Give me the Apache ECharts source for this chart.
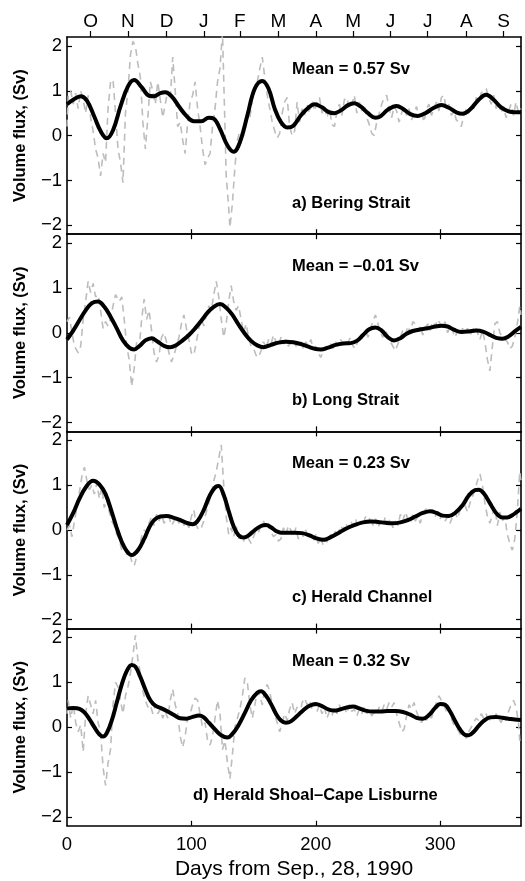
<!DOCTYPE html>
<html><head><meta charset="utf-8">
<script src="https://cdn.jsdelivr.net/npm/echarts@6/dist/echarts.min.js"></script>
<style>html,body{margin:0;padding:0;background:#fff}#c{width:525px;height:881px}</style>
</head><body><div id="c"></div>
<script>
// ---------- data ----------
const panelNames = ['a) Bering Strait', 'b) Long Strait', 'c) Herald Channel', 'd) Herald Shoal\u2013Cape Lisburne'];
const meanValues = ['0.57', '\u20130.01', '0.23', '0.32'];
const monthLabels = ['O','N','D','J','F','M','A','M','J','J','A','S'];
const monthDays = [19,49,80,110,139,170,200,230,260,290,321,351];
const xTickLabels = [0,100,200,300];
const xTickMarks = [100,200,300];
const yTicks = [-2,-1,0,1,2];
const xTitle = 'Days from Sep., 28, 1990';
const yTitle = 'Volume flux, (Sv)';

// a) Bering Strait
const beringSmooth = [[0,0.70],[5,0.80],[11,0.88],[16,0.78],[22,0.42],[27,0.10],[32,-0.06],[37,0.12],[43,0.65],[49,1.10],[54,1.24],[60,1.08],[66,0.89],[70,0.88],[75,0.95],[79,0.97],[84,0.88],[90,0.65],[96,0.44],[102,0.32],[108,0.32],[114,0.40],[118,0.38],[123,0.15],[129,-0.22],[134,-0.36],[139,-0.15],[145,0.45],[151,1.05],[157,1.22],[162,1.05],[167,0.60],[172,0.30],[177,0.18],[182,0.22],[188,0.45],[194,0.62],[199,0.70],[205,0.63],[210,0.53],[215,0.50],[220,0.56],[226,0.68],[231,0.72],[236,0.65],[242,0.50],[248,0.40],[252,0.43],[258,0.58],[265,0.66],[270,0.60],[276,0.48],[282,0.44],[288,0.50],[295,0.62],[301,0.68],[307,0.62],[313,0.52],[318,0.49],[324,0.58],[331,0.80],[337,0.91],[343,0.80],[349,0.63],[355,0.54],[360,0.52],[365,0.52]];
const beringRaw = [[0,0.2],[1,0.9],[3,1.0],[5,0.7],[7,0.95],[9,0.6],[11,1.0],[13,0.8],[15,0.5],[17,0.9],[19,0.4],[21,0.1],[23,-0.3],[25,-0.5],[27,-0.9],[29,-0.4],[31,-0.6],[33,0.6],[35,1.2],[37,1.25],[39,0.5],[41,-0.3],[43,-0.6],[45,-1.05],[47,0.5],[49,1.0],[51,1.8],[53,2.1],[55,2.0],[57,1.6],[59,1.3],[61,0.3],[63,-0.3],[65,0.4],[67,1.2],[69,1.0],[71,0.7],[73,1.2],[75,0.8],[77,0.4],[79,0.7],[81,1.0],[83,0.8],[85,1.75],[87,1.0],[89,0.2],[91,0.3],[93,-0.1],[95,-0.4],[97,0.3],[99,0.75],[101,0.9],[103,1.2],[105,0.6],[107,0.2],[109,-0.3],[111,-0.65],[113,-0.5],[115,-0.4],[117,0.2],[119,0.6],[121,1.2],[123,1.5],[125,2.3],[127,0.2],[128,-0.9],[130,-1.6],[131,-2.05],[133,-1.5],[135,-0.7],[137,-0.1],[139,0.1],[141,0.0],[143,0.3],[145,0.55],[147,0.4],[149,0.8],[151,1.1],[153,1.2],[155,1.5],[157,1.75],[159,1.3],[161,0.9],[163,0.6],[165,0.3],[167,0.1],[169,-0.05],[171,0.05],[173,0.5],[175,0.75],[177,0.85],[179,0.2],[181,0.0],[183,0.1],[185,0.75],[187,0.3],[189,0.6],[191,0.45],[193,0.7],[195,0.5],[197,0.8],[199,0.55],[201,0.75],[203,0.85],[205,0.5],[207,0.65],[209,0.4],[211,0.6],[213,0.25],[215,0.2],[217,0.55],[219,0.7],[221,0.45],[223,0.8],[225,0.85],[227,0.6],[229,0.7],[231,0.9],[233,0.5],[235,0.75],[237,0.55],[239,0.7],[241,0.4],[243,0.25],[245,0.05],[247,0.0],[249,0.3],[251,0.5],[253,0.7],[255,0.85],[257,0.9],[259,0.6],[261,0.4],[263,0.65],[265,0.55],[267,0.3],[269,0.5],[271,0.65],[273,0.45],[275,0.6],[277,0.35],[279,0.5],[281,0.65],[283,0.4],[285,0.55],[287,0.3],[289,0.6],[291,0.7],[293,0.45],[295,0.6],[297,0.75],[299,0.55],[301,0.85],[303,0.9],[305,0.6],[307,0.7],[309,0.45],[311,0.55],[313,0.35],[315,0.3],[317,0.2],[319,0.45],[321,0.6],[323,0.5],[325,0.7],[327,0.6],[329,0.85],[331,0.75],[333,0.95],[335,1.0],[337,1.05],[339,0.85],[341,0.7],[343,0.9],[345,0.6],[347,0.75],[349,0.5],[351,0.65],[353,0.4],[355,0.55],[357,0.7],[359,0.45],[361,0.75],[363,0.5],[365,0.6]];

// b) Long Strait
const longSmooth = [[0,-0.15],[5,0.05],[10,0.28],[15,0.5],[20,0.66],[25,0.70],[30,0.58],[35,0.36],[40,0.1],[45,-0.17],[50,-0.33],[54,-0.37],[58,-0.3],[63,-0.17],[68,-0.12],[73,-0.2],[78,-0.29],[83,-0.32],[88,-0.27],[93,-0.17],[98,-0.05],[103,0.1],[108,0.27],[113,0.45],[118,0.58],[123,0.64],[128,0.56],[133,0.4],[138,0.18],[143,-0.02],[148,-0.18],[153,-0.28],[158,-0.32],[164,-0.27],[170,-0.22],[176,-0.2],[182,-0.21],[188,-0.25],[194,-0.31],[200,-0.36],[204,-0.37],[210,-0.33],[216,-0.27],[222,-0.24],[228,-0.23],[233,-0.18],[238,-0.05],[243,0.08],[248,0.12],[253,0.05],[258,-0.1],[263,-0.17],[268,-0.12],[273,-0.02],[278,0.04],[283,0.07],[290,0.1],[296,0.14],[301,0.16],[306,0.14],[311,0.07],[317,0.02],[323,0.03],[329,0.05],[335,0.02],[341,-0.06],[346,-0.12],[350,-0.13],[355,-0.08],[360,0.03],[365,0.13]];
const longRaw = [[0,0.25],[2,0.35],[4,0.0],[6,-0.3],[9,-0.45],[11,-0.3],[13,0.3],[15,0.7],[17,1.15],[19,0.9],[21,1.1],[23,0.8],[25,0.85],[27,0.5],[29,0.1],[31,0.25],[33,0.15],[35,0.3],[37,0.6],[39,0.85],[42,0.7],[44,0.8],[46,0.3],[48,-0.3],[50,-0.6],[52,-1.2],[54,-0.8],[56,-0.2],[58,-0.35],[60,0.3],[62,0.75],[64,0.3],[66,0.5],[68,0.05],[70,-0.45],[72,-0.65],[74,-0.5],[76,-0.1],[78,0.0],[80,-0.2],[82,-0.45],[84,-0.65],[86,-0.5],[88,-0.3],[90,-0.1],[92,0.2],[94,0.4],[96,0.1],[98,-0.15],[100,-0.45],[102,-0.5],[104,-0.2],[106,0.1],[108,0.3],[110,0.15],[112,0.4],[114,0.6],[116,0.5],[118,0.85],[120,1.15],[122,0.8],[124,0.3],[126,-0.1],[128,0.2],[130,0.7],[132,1.05],[134,0.7],[136,0.5],[138,0.6],[140,0.3],[142,0.0],[144,0.2],[146,-0.1],[148,-0.3],[150,-0.35],[152,-0.5],[154,-0.55],[156,-0.4],[158,-0.2],[160,-0.35],[162,-0.15],[164,-0.25],[166,-0.05],[168,-0.2],[170,-0.3],[172,-0.1],[174,-0.25],[176,-0.15],[178,-0.3],[180,-0.2],[182,-0.15],[184,-0.3],[186,-0.25],[188,-0.2],[190,-0.35],[192,-0.2],[194,-0.3],[196,-0.15],[198,-0.35],[200,-0.3],[202,-0.45],[204,-0.55],[206,-0.4],[208,-0.3],[210,-0.35],[212,-0.25],[214,-0.35],[216,-0.2],[218,-0.3],[220,-0.15],[222,-0.25],[224,-0.3],[226,-0.2],[228,-0.1],[230,-0.3],[232,-0.35],[234,-0.15],[236,-0.2],[238,-0.05],[240,0.05],[242,-0.1],[244,0.1],[246,0.25],[248,0.4],[250,0.2],[252,0.0],[254,-0.1],[256,0.05],[258,-0.05],[260,-0.2],[262,-0.3],[264,-0.4],[266,-0.25],[268,-0.1],[270,0.05],[272,-0.05],[274,0.15],[276,0.0],[278,0.25],[280,0.2],[282,0.05],[284,0.15],[286,-0.05],[288,0.1],[290,0.2],[292,0.05],[294,0.25],[296,0.15],[298,0.3],[300,0.2],[302,0.1],[304,0.25],[306,0.0],[308,0.15],[310,0.05],[312,-0.1],[314,0.05],[316,-0.05],[318,0.1],[320,0.0],[322,0.1],[324,-0.05],[326,0.05],[328,0.15],[330,0.0],[332,-0.15],[334,0.05],[336,-0.2],[338,-0.6],[340,-0.85],[342,-0.3],[344,0.2],[346,0.25],[348,0.0],[350,-0.1],[352,-0.15],[354,-0.2],[356,-0.35],[358,-0.3],[360,-0.1],[362,0.2],[364,0.6],[365,0.4]];

// c) Herald Channel
const heraldSmooth = [[0,0.11],[5,0.38],[10,0.70],[15,0.95],[21,1.10],[26,1.02],[31,0.8],[36,0.4],[41,-0.04],[46,-0.38],[52,-0.56],[57,-0.45],[62,-0.2],[66,0.05],[70,0.22],[75,0.3],[80,0.31],[86,0.27],[92,0.21],[97,0.15],[101,0.13],[105,0.2],[110,0.45],[115,0.78],[120,0.97],[122,0.98],[126,0.78],[130,0.42],[134,0.08],[138,-0.12],[142,-0.17],[146,-0.12],[151,0.0],[156,0.09],[160,0.11],[164,0.06],[168,-0.02],[172,-0.06],[177,-0.06],[183,-0.06],[189,-0.07],[195,-0.12],[200,-0.18],[206,-0.22],[212,-0.16],[218,-0.07],[225,0.04],[232,0.12],[238,0.17],[244,0.19],[250,0.18],[256,0.16],[262,0.15],[268,0.17],[274,0.22],[280,0.3],[286,0.38],[292,0.42],[297,0.38],[302,0.32],[307,0.31],[312,0.38],[318,0.55],[323,0.77],[328,0.89],[331,0.9],[335,0.82],[340,0.6],[345,0.38],[350,0.28],[354,0.28],[358,0.33],[362,0.41],[365,0.47]];
const heraldRaw = [[0,0.0],[2,0.1],[4,-0.15],[6,0.2],[8,0.5],[10,0.85],[12,1.2],[14,1.4],[16,1.1],[18,0.9],[20,1.0],[22,0.8],[24,1.05],[26,0.7],[28,0.95],[30,0.5],[32,0.7],[34,0.4],[36,0.2],[38,0.1],[40,-0.1],[42,-0.2],[44,-0.45],[46,-0.3],[48,-0.55],[50,-0.45],[52,-0.7],[54,-0.8],[56,-0.6],[58,-0.4],[60,-0.15],[62,0.0],[64,-0.05],[66,0.15],[68,0.3],[70,0.1],[72,0.35],[74,0.2],[76,0.35],[78,0.15],[80,0.25],[82,0.3],[84,0.1],[86,0.2],[88,0.3],[90,0.15],[92,0.25],[94,0.1],[96,0.2],[98,0.05],[100,0.3],[102,0.45],[104,0.1],[106,0.0],[108,0.05],[110,0.2],[112,0.4],[114,0.6],[116,0.8],[118,1.1],[120,1.3],[122,1.6],[124,1.9],[126,1.0],[128,0.3],[130,-0.1],[132,0.05],[134,-0.15],[136,0.1],[138,-0.2],[140,-0.1],[142,-0.25],[144,-0.1],[146,-0.2],[148,-0.3],[150,-0.15],[152,0.0],[154,-0.05],[156,0.1],[158,0.2],[160,0.05],[162,0.15],[164,-0.05],[166,-0.15],[168,-0.1],[170,-0.25],[172,-0.2],[174,0.05],[176,-0.1],[178,0.1],[180,0.0],[182,-0.15],[184,0.05],[186,-0.2],[188,-0.05],[190,-0.15],[192,0.0],[194,-0.2],[196,-0.1],[198,-0.25],[200,-0.1],[202,-0.3],[204,-0.15],[206,-0.35],[208,-0.2],[210,-0.3],[212,-0.1],[214,-0.2],[216,0.0],[218,-0.1],[220,0.1],[222,0.0],[224,0.15],[226,0.05],[228,0.2],[230,0.1],[232,0.25],[234,0.05],[236,0.2],[238,0.1],[240,0.3],[242,0.15],[244,0.3],[246,0.1],[248,0.25],[250,0.05],[252,0.2],[254,0.1],[256,0.3],[258,0.15],[260,0.25],[262,0.05],[264,0.2],[266,0.1],[268,0.35],[270,0.2],[272,0.4],[274,0.25],[276,0.15],[278,0.35],[280,0.2],[282,0.3],[284,0.15],[286,0.35],[288,0.45],[290,0.5],[292,0.4],[294,0.45],[296,0.3],[298,0.4],[300,0.25],[302,0.35],[304,0.2],[306,0.3],[308,0.15],[310,0.3],[312,0.4],[314,0.25],[316,0.45],[318,0.5],[320,0.55],[322,0.4],[324,0.6],[326,0.75],[328,0.9],[330,1.1],[332,1.25],[334,1.0],[336,0.6],[338,0.3],[340,0.15],[342,0.35],[344,0.5],[346,0.1],[348,0.4],[350,0.2],[352,0.3],[354,-0.1],[356,-0.3],[358,-0.45],[360,-0.2],[362,0.4],[364,1.3],[365,1.1]];

// d) Herald Shoal–Cape Lisburne
const shoalSmooth = [[0,0.42],[5,0.43],[10,0.41],[14,0.33],[18,0.18],[22,0.0],[26,-0.16],[29,-0.21],[32,-0.13],[36,0.15],[40,0.55],[44,0.95],[48,1.25],[52,1.39],[55,1.35],[59,1.12],[63,0.84],[67,0.6],[71,0.48],[76,0.42],[81,0.35],[86,0.27],[91,0.2],[96,0.19],[101,0.23],[106,0.26],[110,0.22],[114,0.1],[119,-0.05],[124,-0.18],[129,-0.23],[133,-0.15],[138,0.05],[143,0.32],[148,0.6],[153,0.77],[156,0.8],[160,0.7],[164,0.52],[168,0.3],[172,0.15],[176,0.1],[180,0.13],[185,0.25],[190,0.38],[195,0.48],[200,0.52],[205,0.47],[210,0.4],[215,0.37],[220,0.4],[225,0.44],[230,0.46],[235,0.42],[240,0.37],[246,0.35],[252,0.35],[258,0.36],[264,0.36],[270,0.34],[276,0.28],[281,0.21],[286,0.19],[291,0.27],[296,0.43],[300,0.52],[304,0.5],[308,0.35],[312,0.14],[316,-0.05],[320,-0.17],[323,-0.18],[327,-0.1],[331,0.03],[335,0.14],[340,0.22],[345,0.23],[350,0.21],[355,0.19],[360,0.17],[365,0.16]];
const shoalRaw = [[0,0.3],[1,0.6],[3,0.2],[5,0.5],[7,0.1],[9,-0.1],[11,0.05],[13,-0.55],[15,0.3],[17,0.7],[19,0.5],[21,0.3],[23,0.6],[25,0.1],[27,-0.1],[29,-0.9],[31,-1.3],[33,-0.8],[35,-0.5],[37,0.5],[39,1.0],[41,0.9],[43,0.6],[45,0.3],[47,0.7],[49,0.9],[51,1.2],[53,1.6],[55,2.05],[57,1.5],[59,1.2],[61,0.8],[63,0.6],[65,0.45],[67,0.5],[69,0.3],[71,0.5],[73,0.3],[75,0.4],[77,0.2],[79,0.35],[81,0.2],[83,0.6],[85,0.85],[87,0.5],[89,0.3],[91,-0.2],[93,-0.45],[95,-0.2],[97,0.2],[99,0.3],[101,0.5],[103,0.65],[105,0.6],[107,0.3],[109,0.0],[111,0.1],[113,-0.3],[115,-0.4],[117,-0.2],[119,0.2],[121,0.6],[123,0.3],[125,-0.5],[127,-0.3],[129,-0.8],[131,-1.15],[133,-0.6],[135,0.0],[137,0.2],[139,0.4],[141,0.7],[143,1.1],[145,1.0],[147,0.5],[149,0.2],[151,0.5],[153,0.8],[155,0.7],[157,0.5],[159,0.85],[161,0.95],[163,0.8],[165,0.5],[167,0.3],[169,0.1],[171,-0.1],[173,0.1],[175,0.3],[177,0.15],[179,0.4],[181,0.55],[183,0.3],[185,0.45],[187,0.25],[189,0.55],[191,0.65],[193,0.5],[195,0.6],[197,0.4],[199,0.55],[201,0.35],[203,0.5],[205,0.3],[207,0.45],[209,0.2],[211,0.35],[213,0.25],[215,0.45],[217,0.3],[219,0.5],[221,0.35],[223,0.45],[225,0.3],[227,0.5],[229,0.35],[231,0.4],[233,0.25],[235,0.4],[237,0.3],[239,0.45],[241,0.3],[243,0.4],[245,0.25],[247,0.35],[249,0.3],[251,0.45],[253,0.35],[255,0.5],[257,0.4],[259,0.55],[261,0.45],[263,0.55],[265,0.3],[267,0.1],[269,-0.1],[271,-0.05],[273,0.25],[275,0.5],[277,0.4],[279,0.55],[281,0.35],[283,0.2],[285,0.1],[287,0.25],[289,0.15],[291,0.3],[293,0.2],[295,0.4],[297,0.55],[299,0.7],[301,0.6],[303,0.5],[305,0.35],[307,0.45],[309,0.2],[311,0.05],[313,0.0],[315,-0.1],[317,-0.2],[319,-0.15],[321,-0.25],[323,-0.1],[325,0.0],[327,0.1],[329,0.2],[331,0.15],[333,0.3],[335,0.2],[337,0.3],[339,0.1],[341,0.25],[343,0.15],[345,0.3],[347,0.2],[349,0.1],[351,0.25],[353,0.15],[355,0.35],[357,0.5],[359,0.6],[361,0.45],[363,0.1],[364,-0.3],[365,-0.25]];

const smoothSeries = [beringSmooth, longSmooth, heraldSmooth, shoalSmooth];
const rawSeries = [beringRaw, longRaw, heraldRaw, shoalRaw];

// ---------- layout / style ----------
const FONT = '"Liberation Sans", Arial, Helvetica, sans-serif';
const TOP0 = 37, PH = 197.2, LEFT = 67, RIGHT = 4;
const fmtY = v => v < 0 ? '\u2212' + Math.abs(v) : String(v);
const lineSty = {color:'#000', width:1.6};
const tickSty = {color:'#000', width:1.2};

const grids = [], xAxes = [], yAxes = [], series = [], graphics = [];
for (let i = 0; i < 4; i++) {
  const top = TOP0 + i * PH;
  grids.push({left: LEFT, right: RIGHT, top: top, height: PH});
  // bottom x axis
  xAxes.push({
    gridIndex: i, type: 'value', position: 'bottom', min: 0, max: 365,
    axisLine: {onZero: false, lineStyle: lineSty},
    axisTick: {inside: true, length: 5, customValues: xTickMarks, lineStyle: tickSty},
    axisLabel: {show: i === 3, customValues: xTickLabels, margin: 10, fontSize: 18.5, color: '#000', fontFamily: FONT},
    splitLine: {show: false},
    name: i === 3 ? xTitle : '', nameLocation: 'middle', nameGap: 33,
    nameTextStyle: {fontSize: 21, color: '#000', fontFamily: FONT}
  });
  // top x axis
  if (i === 0) {
    xAxes.push({
      gridIndex: i, type: 'value', position: 'top', min: 0, max: 365,
      axisLine: {onZero: false, lineStyle: lineSty},
      axisTick: {inside: false, length: 6, customValues: monthDays, lineStyle: tickSty},
      axisLabel: {show: true, customValues: monthDays, margin: 6, fontSize: 19, color: '#000', fontFamily: FONT,
        formatter: v => monthLabels[monthDays.indexOf(v)]},
      splitLine: {show: false}
    });
  } else {
    xAxes.push({
      gridIndex: i, type: 'value', position: 'top', min: 0, max: 365,
      axisLine: {onZero: false, lineStyle: lineSty},
      axisTick: {inside: true, length: 5, customValues: xTickMarks, lineStyle: tickSty},
      axisLabel: {show: false},
      splitLine: {show: false}
    });
  }
  // left y axis
  yAxes.push({
    gridIndex: i, type: 'value', position: 'left', min: -2.2, max: 2.2,
    axisLine: {onZero: false, lineStyle: lineSty},
    axisTick: {inside: true, length: 5, customValues: yTicks, lineStyle: tickSty},
    axisLabel: {customValues: yTicks, margin: 5, fontSize: 18.5, color: '#000', fontFamily: FONT, formatter: fmtY},
    splitLine: {show: false},
    name: yTitle, nameLocation: 'middle', nameGap: 38, nameRotate: 90,
    nameTextStyle: {fontSize: 16.5, fontWeight: 'bold', color: '#000', fontFamily: FONT}
  });
  // right y axis
  yAxes.push({
    gridIndex: i, type: 'value', position: 'right', min: -2.2, max: 2.2,
    axisLine: {onZero: false, lineStyle: lineSty},
    axisTick: {inside: true, length: 5, customValues: yTicks, lineStyle: tickSty},
    axisLabel: {show: false},
    splitLine: {show: false}
  });
  series.push({
    type: 'line', xAxisIndex: 2 * i, yAxisIndex: 2 * i, data: rawSeries[i],
    showSymbol: false, silent: true, z: 2,
    lineStyle: {color: '#bdbdbd', width: 1.6, type: [7, 5]}
  });
  series.push({
    type: 'line', xAxisIndex: 2 * i, yAxisIndex: 2 * i, data: smoothSeries[i],
    showSymbol: false, silent: true, smooth: 0.4, z: 3,
    lineStyle: {color: '#000', width: 4}
  });
  graphics.push({
    type: 'text', left: 292, top: top + 24,
    style: {text: 'Mean = ' + meanValues[i] + ' Sv', fontSize: 16.5, fontWeight: 'bold', fontFamily: FONT, fill: '#000'}
  });
  graphics.push({
    type: 'text', left: i === 3 ? 193 : 292, top: top + 158,
    style: {text: panelNames[i], fontSize: 16.5, fontWeight: 'bold', fontFamily: FONT, fill: '#000'}
  });
}

const chart = echarts.init(document.getElementById('c'), null, {renderer: 'canvas'});
chart.setOption({
  animation: false,
  backgroundColor: '#fff',
  grid: grids, xAxis: xAxes, yAxis: yAxes, series: series, graphic: graphics
});
</script>
</body></html>
